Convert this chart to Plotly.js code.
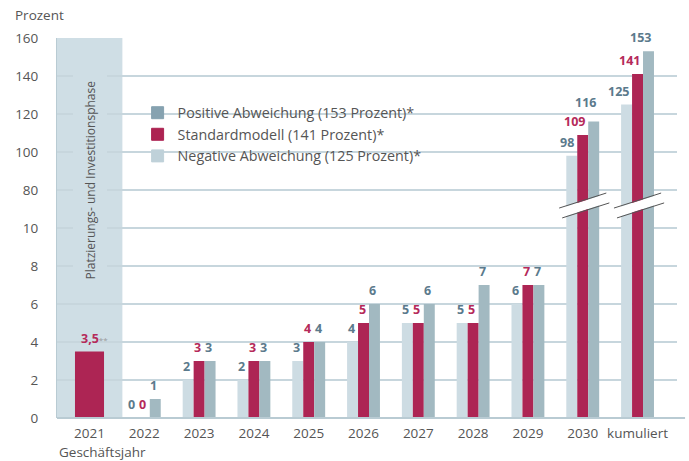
<!DOCTYPE html>
<html><head><meta charset="utf-8">
<script src="https://cdn.plot.ly/plotly-3.0.1.min.js"></script>
<style>body{margin:0;background:#fff}#c{width:689px;height:461px}</style>
</head><body><div id="c"></div>
<script>
// ---- data ----
const categories = ['2021','2022','2023','2024','2025','2026','2027','2028','2029','2030','kumuliert'];
const negative   = [null, 0, 2, 2, 3, 4, 5, 5, 6, 98, 125];
const standard   = [3.5,  0, 3, 3, 4, 5, 5, 5, 7, 109, 141];
const positive   = [null, 1, 3, 3, 4, 6, 6, 7, 7, 116, 153];
const yTickValues = [0, 2, 4, 6, 8, 10, 80, 100, 120, 140, 160];
const seriesNames = ['Positive Abweichung (153 Prozent)*', 'Standardmodell (141 Prozent)*', 'Negative Abweichung (125 Prozent)*'];
const phaseLabel = 'Platzierungs- und Investitionsphase';
const footnoteMark = '**';

// broken axis: 0..10 linear, gap of one tick step, then 80..160 with 20 per step
function brk(v){ if(v===null) return null; return v<=10 ? v : 12 + (v-80)/10; }
function fmt(v){ return String(v).replace('.', ','); }

const FONT = 'Open Sans, Noto Sans, sans-serif';
const PX_PER_UNIT = 19;
const C = {neg:'#cddce3', std:'#ad2554', pos:'#a2b9c1',
           lneg:'#bfd1d9', lstd:'#ad2352', lpos:'#86a2b0',
           tBlue:'#5b7a8c', tRed:'#b52a5a', grid:'#c7d6dd', band:'#cfdee5', txt:'#555'};

const common = {type:'bar', x:categories, showlegend:false, hoverinfo:'skip'};

const traces = [
  Object.assign({}, common, {name:seriesNames[2], y:negative.map(brk), marker:{color:C.neg}, width:0.2, offset:-0.3}),
  Object.assign({}, common, {name:seriesNames[1], y:standard.map(brk), marker:{color:C.std},
    width:standard.map((v,i)=>i===0?0.53:0.2), offset:standard.map((v,i)=>i===0?-0.265:-0.1)}),
  Object.assign({}, common, {name:seriesNames[0], y:positive.map(brk), marker:{color:C.pos}, width:0.2, offset:0.1}),
  // legend entries
  {type:'bar', x:[categories[0]], y:[null], name:seriesNames[0], marker:{color:C.lpos, line:{color:C.lpos,width:1}}, showlegend:true, hoverinfo:'skip'},
  {type:'bar', x:[categories[0]], y:[null], name:seriesNames[1], marker:{color:C.lstd, line:{color:C.lstd,width:1}}, showlegend:true, hoverinfo:'skip'},
  {type:'bar', x:[categories[0]], y:[null], name:seriesNames[2], marker:{color:C.lneg, line:{color:C.lneg,width:1}}, showlegend:true, hoverinfo:'skip'}
];

// value labels, placed through the axes at each bar's top
const annotations = [];
function addLabels(vals, dx, color, neighbour){
  vals.forEach(function(v,i){
    if(v===null) return;
    if(i===0){
      annotations.push({x:i+dx, y:brk(v), xref:'x', yref:'y', yanchor:'bottom', xanchor:'center', xshift:5, yshift:3,
        showarrow:false, text:'<b>'+fmt(v)+'</b><span style="font-size:8px;color:#9a9a9a">'+footnoteMark+'</span>',
        font:{family:FONT, size:12.5, color:color}});
      return;
    }
    let ys = 3;
    if(neighbour && neighbour[i]!==null && String(v).length>1){
      const d = (brk(v)-brk(neighbour[i]))*PX_PER_UNIT;
      if(d>0 && d<19) ys += 19-d;   // lift the label clear of its neighbour's label
    }
    annotations.push({x:i+dx, y:brk(v), xref:'x', yref:'y', yanchor:'bottom', xanchor:'right', xshift:4, yshift:ys,
      showarrow:false, text:'<b>'+fmt(v)+'</b>', font:{family:FONT, size:12.5, color:color}});
  });
}
addLabels(negative, -0.2, C.tBlue, null);
addLabels(standard, 0, C.tRed, null);
addLabels(positive, 0.2, C.tBlue, standard);

const x0 = -0.593, x1 = 10.72;
const shapes = [
  {type:'rect', xref:'x', yref:'paper', x0:x0, x1:0.6, y0:0, y1:1, fillcolor:C.band, line:{width:0}, layer:'below'},
  {type:'line', xref:'paper', yref:'paper', x0:0, x1:1.013, y0:0, y1:0, line:{color:'#b9cbd3', width:2}}
];
// axis-break marks on the two broken bars
[9,10].forEach(function(k){
  shapes.push({type:'line', xref:'x', yref:'y', x0:k-0.40, y0:10.79, x1:k+0.455, y1:11.58, line:{color:'#fff', width:9}});
  shapes.push({type:'line', xref:'x', yref:'y', x0:k-0.43, y0:11.05, x1:k+0.43, y1:11.84, line:{color:'#555', width:1}});
  shapes.push({type:'line', xref:'x', yref:'y', x0:k-0.375, y0:10.53, x1:k+0.485, y1:11.32, line:{color:'#555', width:1}});
});

annotations.push(
  {text:'Prozent', xref:'paper', yref:'paper', x:(13-57)/620, y:(418-15)/380, xanchor:'left', yanchor:'middle', showarrow:false,
   font:{family:FONT,size:13.5,color:C.txt}},
  {text:'Geschäftsjahr', xref:'paper', yref:'paper', x:0, y:(418-452)/380, xanchor:'left', yanchor:'middle', showarrow:false,
   font:{family:FONT,size:13.5,color:C.txt}},
  {text:phaseLabel, xref:'x', yref:'y', x:0, y:(418-180)/19, textangle:-90, showarrow:false,
   bgcolor:C.band, borderpad:8, font:{family:FONT,size:12,color:C.txt}}
);

const layout = {
  width:689, height:461,
  margin:{l:57, r:12, t:38, b:43},
  paper_bgcolor:'#fff', plot_bgcolor:'#fff',
  barmode:'overlay',
  font:{family:FONT, color:C.txt, size:13.5},
  xaxis:{type:'category', range:[x0,x1], showgrid:false, zeroline:false, showline:false, ticks:'',
         ticklabelstandoff:5, tickfont:{family:FONT, size:13.5, color:C.txt}, fixedrange:true},
  yaxis:{range:[0,20], tickvals:yTickValues.map(brk), ticktext:yTickValues.map(String),
         showgrid:true, gridcolor:C.grid, gridwidth:2, zeroline:false,
         showline:true, linecolor:'#b9cbd3', linewidth:1, ticks:'', ticklabelstandoff:15,
         tickfont:{family:FONT, size:13.5, color:C.txt}, fixedrange:true},
  showlegend:true,
  legend:{x:0.13, y:0.845, xanchor:'left', yanchor:'top', bgcolor:'rgba(0,0,0,0)',
          font:{family:FONT, size:14.3, color:C.txt}, traceorder:'normal', tracegroupgap:0},
  shapes:shapes,
  annotations:annotations
};

Plotly.newPlot('c', traces, layout, {staticPlot:true, displayModeBar:false});
</script></body></html>
